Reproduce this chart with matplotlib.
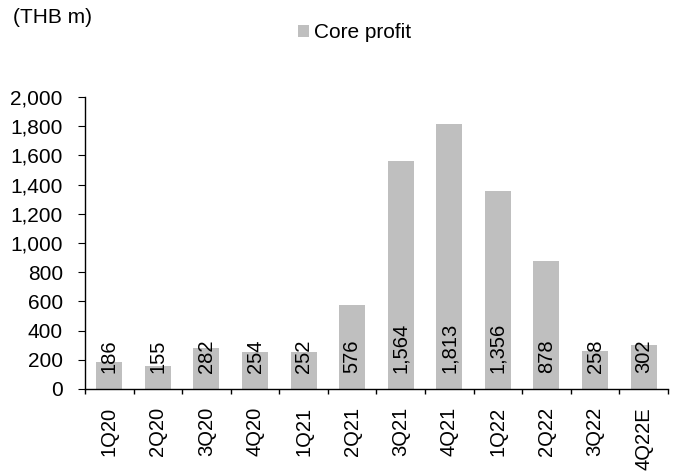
import numpy as np
import matplotlib.pyplot as plt
from matplotlib.ticker import FuncFormatter, FixedLocator

plt.rcParams['font.family'] = ['Liberation Sans', 'DejaVu Sans']

quarters = ["1Q20", "2Q20", "3Q20", "4Q20", "1Q21", "2Q21", "3Q21", "4Q21",
            "1Q22", "2Q22", "3Q22", "4Q22E"]
core_profit = [186, 155, 282, 254, 252, 576, 1564, 1813, 1356, 878, 258, 302]

fs_h = 15      # 横書きテキスト
fs_v = 14.5    # 縦書きテキスト

fig = plt.figure(figsize=(6.81, 4.71), dpi=100)
ax = fig.add_axes([0.1248, 0.1741, 0.856, 0.620])

x = np.arange(len(quarters))
bars = ax.bar(x, core_profit, width=0.535, color="#bfbfbf", label="Core profit")

# 数値ラベル（棒の根元に縦書き）
for xi, v in zip(x, core_profit):
    ax.text(xi, 110, "{:,}".format(v), rotation=90, ha="center", va="bottom",
            fontsize=fs_v, color="black")

ax.set_xlim(-0.5, len(quarters) - 0.5)
ax.set_ylim(0, 2000)
ax.set_yticks(range(0, 2001, 200))
ax.yaxis.set_major_formatter(FuncFormatter(lambda v, p: "{:,}".format(int(v))))
ax.set_xticks(x)
ax.set_xticklabels(quarters, rotation=90, fontsize=fs_v)
ax.xaxis.set_minor_locator(FixedLocator(np.arange(-0.5, len(quarters), 1)))
ax.tick_params(axis="x", which="major", length=0, pad=13)
ax.tick_params(axis="x", which="minor", length=3.6, direction="out", width=1)
ax.tick_params(axis="y", length=5, direction="out", labelsize=fs_h, pad=11)

for s in ["top", "right"]:
    ax.spines[s].set_visible(False)
ax.spines["left"].set_linewidth(1)
ax.spines["bottom"].set_linewidth(1)

fig.text(0.019, 0.962, "(THB m)", fontsize=fs_h, va="center", ha="left")
fig.legend(handles=[bars], labels=["Core profit"], loc="center",
           bbox_to_anchor=(0.521, 0.93), frameon=False, fontsize=fs_h,
           handlelength=0.5, handleheight=0.5, handletextpad=0.25,
           borderpad=0, borderaxespad=0)

fig.savefig("out.png", dpi=100)
